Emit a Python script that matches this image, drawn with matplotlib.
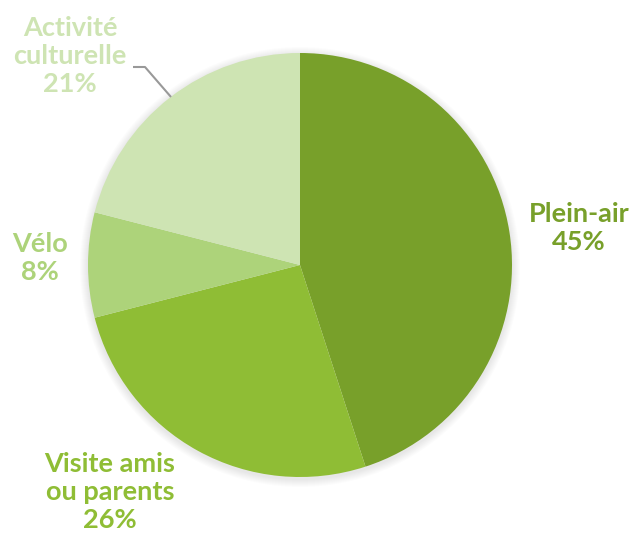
import matplotlib
matplotlib.use("Agg")
import matplotlib.pyplot as plt
from matplotlib.patches import Circle

categories = ["Plein-air", "Visite amis\nou parents", "Vélo", "Activité\nculturelle"]
values = [45, 26, 8, 21]
colors = ["#78A02A", "#8FBD35", "#ADD37A", "#CEE4B3"]
label_colors = ["#78A02A", "#8FBD35", "#ADD37A", "#CEE4B3"]

W, H = 634, 533
fig = plt.figure(figsize=(W / 100, H / 100), dpi=100)
ax = fig.add_axes([0, 0, 1, 1])

cx, cy, r = 300, 265, 212

# soft shadow
for i in range(1, 9):
    ax.add_patch(Circle((cx, cy + 2), r + i, color="black", alpha=0.012, lw=0, zorder=0))

ax.pie(values, colors=colors, startangle=-90, counterclock=True,
       center=(cx, cy), radius=r, frame=True,
       wedgeprops=dict(linewidth=0, zorder=1))
ax.set_xlim(0, W)
ax.set_ylim(H, 0)
ax.set_aspect("equal")
ax.axis("off")

label_pos = [(579, 228), (110, 492), (40, 258), (70, 56)]
font = dict(family=["Lato", "DejaVu Sans"], fontsize=19.5, fontweight="bold",
            ha="center", va="center", linespacing=1.2)
for cat, v, (x, y), c in zip(categories, values, label_pos, label_colors):
    ax.text(x, y, f"{cat}\n{v}%", color=c, **font)

# leader line for Activité culturelle
ax.plot([133, 145, 171], [67, 67, 97], color="#999999", lw=1.5, solid_capstyle="butt")

fig.savefig("out.png", dpi=100)
